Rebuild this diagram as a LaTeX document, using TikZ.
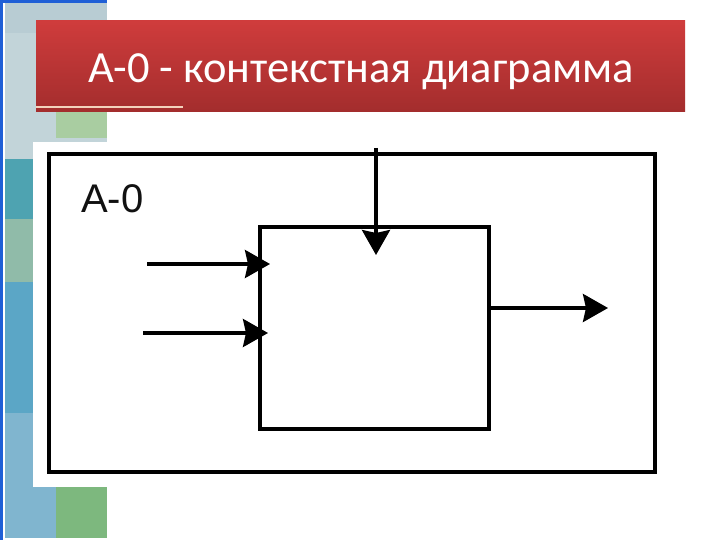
\documentclass[tikz,border=0pt]{standalone}
\usepackage{fontspec}
\setmainfont{Carlito}
\newfontfamily\labelfont{Liberation Sans}
\usetikzlibrary{arrows.meta}
\definecolor{edgeblue}{HTML}{1F5FD6}
\definecolor{palegray}{HTML}{C2D4D9}
\definecolor{palegraytop}{HTML}{B8CCD3}
\definecolor{palegreen}{HTML}{A9CDA1}
\definecolor{tealtile}{HTML}{4EA3B1}
\definecolor{sagetile}{HTML}{90BBA9}
\definecolor{bluetile}{HTML}{5BA6C6}
\definecolor{lightbluetile}{HTML}{80B5CF}
\definecolor{greentile}{HTML}{7DB87E}
\definecolor{bandtop}{HTML}{CF3C3C}
\definecolor{bandbottom}{HTML}{A32D2D}
\definecolor{creamline}{HTML}{F3D2BC}
\definecolor{labelgray}{HTML}{111111}
\tikzset{
  boxframe/.style={draw=black, line width=4.5pt, inner sep=0pt, outer sep=0pt},
  funcbox/.style={draw=black, line width=3.5pt, inner sep=0pt, outer sep=0pt},
  conn/.style={draw=black, line width=3.5pt, -{Stealth[length=25pt,width=28pt,inset=3pt]}},
}
\begin{document}
\begin{tikzpicture}[x=1pt,y=-1pt]
\useasboundingbox (0,0) rectangle (720,540);
\fill[white] (0,0) rectangle (720,540);
% left decoration
\fill[palegray] (5,3) rectangle (107,159);
\fill[palegraytop] (5,3) rectangle (107,33);
\fill[palegreen] (56,112) rectangle (107,138);
\fill[tealtile] (5,159) rectangle (33,219);
\fill[sagetile] (5,219) rectangle (33,282);
\fill[bluetile] (5,282) rectangle (33,413);
\fill[lightbluetile] (5,413) rectangle (33,538);
\fill[lightbluetile] (5,487) rectangle (56,538);
\fill[greentile] (56,487) rectangle (107,538);
\fill[white] (33,142) rectangle (110,487);
\fill[edgeblue] (0,0) rectangle (2.5,540);
\fill[edgeblue] (0,0) rectangle (107,3);
% title band
\shade[top color=bandtop, bottom color=bandbottom] (36,21) rectangle (685,112);
\draw[creamline, line width=1.5pt] (36,107) -- (183,107);
\node[anchor=base, text=white, font=\fontsize{44.5}{52}\selectfont, inner sep=0pt] (title) at (361,83) {А-0 - контекстная диаграмма};
% diagram
\node[boxframe, minimum width=606pt, minimum height=318pt] (frame) at (352,313) {};
\node[anchor=base west, text=labelgray, font=\labelfont\fontsize{40}{46}\selectfont, inner sep=0pt] (lbl) at (81,213) {A-0};
\node[funcbox, minimum width=229pt, minimum height=202pt] (func) at (374.5,328) {};
\coordinate (in1) at (147,264);
\coordinate (in2) at (143,333);
\coordinate (ctrl) at (376,148);
\coordinate (out1) at (608,308);
\draw[conn, shorten >=-10pt] (in1) -- (in1 -| func.west);
\draw[conn, shorten >=-8pt] (in2) -- (in2 -| func.west);
\draw[conn, shorten >=-28pt] (ctrl) -- (ctrl |- func.north);
\draw[conn] (func.east |- out1) -- (out1);
\end{tikzpicture}
\end{document}
